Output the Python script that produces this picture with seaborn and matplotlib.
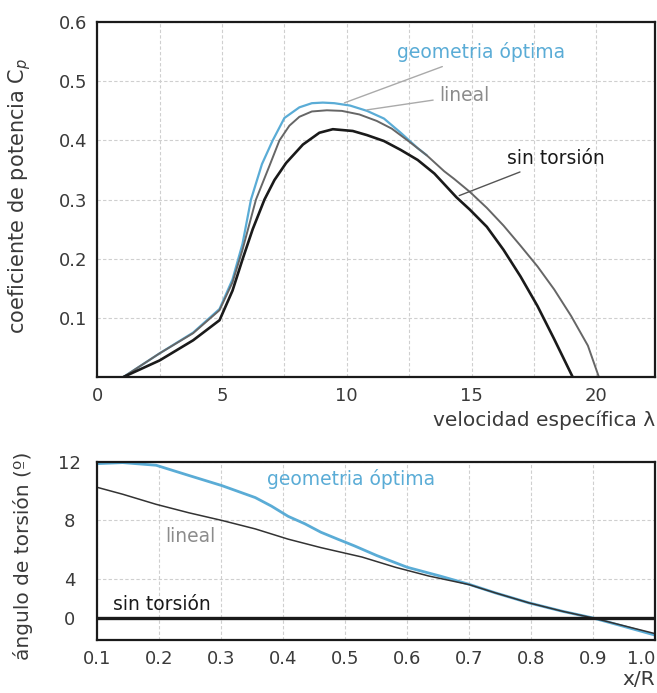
import numpy as np
import seaborn as sns
import matplotlib
matplotlib.use('Agg')
import matplotlib.pyplot as plt
from matplotlib.ticker import MultipleLocator

# power coefficient vs tip speed ratio
lam_sin = [1.05, 2.5, 3.84, 4.9, 5.42, 5.83, 6.23, 6.7, 7.1, 7.57, 8.24, 8.9, 9.44, 10.24, 10.81, 11.49,
           12.16, 12.84, 13.51, 14.39, 14.93, 15.61, 16.28, 16.96, 17.64, 18.31, 19.05]
cp_sin = [0.0, 0.028, 0.062, 0.096, 0.146, 0.2, 0.25, 0.3, 0.333, 0.362, 0.393, 0.413, 0.419, 0.416, 0.409, 0.399,
          0.384, 0.367, 0.344, 0.304, 0.283, 0.254, 0.215, 0.17, 0.12, 0.064, 0.0]

lam_lin = [1.05, 2.5, 3.84, 4.9, 5.42, 5.82, 6.36, 6.9, 7.3, 7.7, 8.1, 8.6, 9.2, 9.8, 10.5, 11.2, 11.8,
           12.5, 13.2, 13.9, 14.3, 14.93, 15.61, 16.28, 16.96, 17.64, 18.31, 18.99, 19.66, 20.1]
cp_lin = [0.0, 0.04, 0.074, 0.113, 0.16, 0.215, 0.3, 0.357, 0.4, 0.425, 0.44, 0.449, 0.451, 0.45, 0.444,
          0.433, 0.42, 0.398, 0.375, 0.348, 0.335, 0.313, 0.286, 0.256, 0.222, 0.187, 0.148, 0.103, 0.053, 0.0]

lam_opt = [1.05, 2.5, 3.84, 4.9, 5.42, 5.82, 6.16, 6.6, 7.03, 7.5, 8.1, 8.6, 9.04, 9.5, 10.13, 10.81,
           11.49, 12.16, 12.84, 13.2]
cp_opt = [0.0, 0.04, 0.075, 0.115, 0.165, 0.225, 0.3, 0.36, 0.4, 0.438, 0.456, 0.463, 0.464, 0.463, 0.459,
          0.45, 0.437, 0.413, 0.387, 0.375]

# twist angle along the blade
xr_opt = [0.1, 0.141, 0.195, 0.248, 0.301, 0.355, 0.381, 0.408, 0.435, 0.461, 0.488, 0.515, 0.551,
          0.6, 0.653, 0.7, 0.743, 0.797, 0.851, 0.9, 0.949, 1.0]
tw_opt = [11.88, 11.95, 11.77, 11.07, 10.38, 9.56, 8.98, 8.28, 7.77, 7.19, 6.72, 6.26, 5.6,
          4.8, 4.2, 3.45, 2.56, 1.54, 0.68, 0.0, -0.85, -1.75]

xr_lin = [0.1, 0.141, 0.195, 0.248, 0.301, 0.355, 0.408, 0.461, 0.527, 0.581, 0.635, 0.7, 0.743,
          0.797, 0.851, 0.9, 0.95, 1.0]
tw_lin = [10.26, 9.79, 9.10, 8.52, 8.0, 7.42, 6.72, 6.14, 5.5, 4.8, 4.2, 3.42, 2.56,
          1.54, 0.68, 0.0, -0.8, -1.6]

xr_sin = [0.1, 1.0]
tw_sin = [0.0, 0.0]

blue = '#5aacd6'
grey = '#8c8c8c'
dark = '#1a1a1a'
txt = '#3a3a3a'

sns.set_style('white')
plt.rcParams['font.family'] = ['DejaVu Sans']

fig = plt.figure(figsize=(6.57, 6.93), dpi=100)
ax1 = fig.add_axes([0.148, 0.456, 0.849, 0.512])
ax2 = fig.add_axes([0.148, 0.0765, 0.849, 0.257])

# top panel
sns.lineplot(x=lam_opt, y=cp_opt, ax=ax1, color=blue, lw=1.6, sort=False)
sns.lineplot(x=lam_lin, y=cp_lin, ax=ax1, color='#666666', lw=1.4, sort=False)
sns.lineplot(x=lam_sin, y=cp_sin, ax=ax1, color=dark, lw=1.9, sort=False)

ax1.set_xlim(0, 22.35)
ax1.set_ylim(0, 0.6)
ax1.set_xticks([0, 5, 10, 15, 20])
ax1.set_yticks([0.1, 0.2, 0.3, 0.4, 0.5, 0.6])
ax1.xaxis.set_minor_locator(MultipleLocator(2.5))
ax1.grid(True, which='both', ls=(0, (3, 2)), color='#cfcfcf', lw=0.8)
ax1.set_xlabel('velocidad específica λ', loc='right', color=txt, fontsize=14.5, labelpad=4)
ax1.set_ylabel('coeficiente de potencia C$_p$', color=txt, fontsize=15)
ax1.yaxis.set_label_coords(-0.115, 0.51)

ax1.annotate('geometria óptima', xy=(9.8, 0.462), xytext=(12.0, 0.549),
             color=blue, fontsize=13.5, va='center',
             arrowprops=dict(arrowstyle='-', color='#aaaaaa', lw=1))
ax1.annotate('lineal', xy=(10.7, 0.451), xytext=(13.7, 0.476),
             color=grey, fontsize=13.5, va='center',
             arrowprops=dict(arrowstyle='-', color='#aaaaaa', lw=1))
ax1.annotate('sin torsión', xy=(14.4, 0.305), xytext=(16.4, 0.37),
             color=dark, fontsize=13.5, va='center',
             arrowprops=dict(arrowstyle='-', color='#555555', lw=1))

# bottom panel: piecewise vertical scale, spaced like the source axis
ybrk = np.array([-2.25, 0.0, 4.0, 12.0])
ypos = np.array([0.0, 22.0, 61.0, 178.0])
ax2.set_yscale('function', functions=(lambda v: np.interp(v, ybrk, ypos),
                                      lambda p: np.interp(p, ypos, ybrk)))

sns.lineplot(x=xr_opt, y=tw_opt, ax=ax2, color=blue, lw=2.0, sort=False)
sns.lineplot(x=xr_lin, y=tw_lin, ax=ax2, color='#333333', lw=1.1, sort=False)
sns.lineplot(x=xr_sin, y=tw_sin, ax=ax2, color=dark, lw=2.4, sort=False)

ax2.set_xlim(0.1, 1.0)
ax2.set_ylim(-2.25, 12.0)
ax2.set_xticks(np.round(np.arange(0.1, 1.01, 0.1), 1))
ax2.set_xticklabels(['0.1', '0.2', '0.3', '0.4', '0.5', '0.6', '0.7', '0.8', '0.9', '1.0'])
ax2.set_yticks([0, 4, 8, 12])
ax2.set_yticks([], minor=True)
ax2.grid(True, ls=(0, (3, 2)), color='#cfcfcf', lw=0.8)
ax2.set_xlabel('x/R', loc='right', color=txt, fontsize=14.5, labelpad=2)
ax2.set_ylabel('ángulo de torsión (º)', color=txt, fontsize=14.5)
ax2.yaxis.set_label_coords(-0.115, 0.47)

ax2.text(0.51, 10.8, 'geometria óptima', color=blue, fontsize=13.5, ha='center', va='center')
ax2.text(0.25, 6.87, 'lineal', color=grey, fontsize=13.5, ha='center', va='center')
ax2.text(0.205, 1.4, 'sin torsión', color=dark, fontsize=13.5, ha='center', va='center')

for ax in (ax1, ax2):
    ax.tick_params(length=0, colors=txt, labelsize=13, pad=7)
    for s in ax.spines.values():
        s.set_color(dark)
        s.set_linewidth(1.6)

ax2.tick_params(axis='y', pad=20)
for lab in ax2.get_yticklabels():
    lab.set_horizontalalignment('center')
ax2.get_xticklabels()[-1].set_horizontalalignment('right')

fig.savefig('out.png', dpi=100)
